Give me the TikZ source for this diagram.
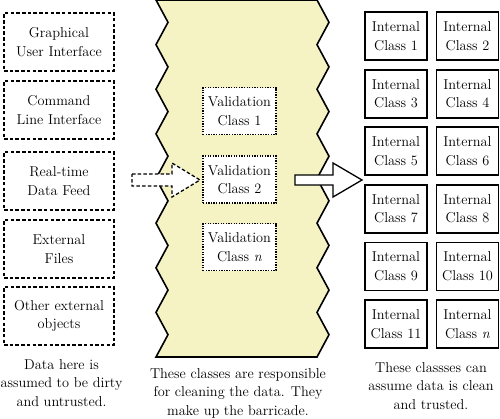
\documentclass[tikz,border=0pt]{standalone}
\usepackage{fontspec}
\definecolor{barfill}{RGB}{245,243,196}
\begin{document}
\begin{tikzpicture}[x=1pt,y=-1pt,
  txt/.style={font=\fontsize{14.3}{18.5}\selectfont, align=center, inner sep=0pt},
  extbox/.style={txt, draw, dash pattern=on 3.5pt off 2.2pt, line width=1.4pt, minimum width=110pt, minimum height=58pt},
  valbox/.style={txt, draw, dash pattern=on 1.3pt off 1.3pt, line width=1.3pt, fill=white, minimum width=73pt, minimum height=47pt},
  intbox/.style={txt, draw, line width=1.8pt, fill=white, minimum width=62pt, minimum height=48pt},
  captxt/.style={txt},
  dasharrow/.style={draw, fill=white, line width=1.3pt, dash pattern=on 3.5pt off 2.2pt, line join=miter},
  solidarrow/.style={draw, fill=white, line width=1.3pt, line join=miter}
]
\useasboundingbox (0,0) rectangle (500,418);

% barricade
\filldraw[fill=barfill, draw=black, line width=1.6pt, line join=miter]
  (156,0) \foreach \k in {1,...,16}{ -- ({156+12*mod(\k,2)},{\k*22.3125}) }
  \foreach \k in {16,...,0}{ -- ({317+12*mod(\k,2)},{\k*22.3125}) } -- cycle;

% external sources
\node[extbox] (gui) at (59,42) {Graphical\\User Interface};
\node[extbox] (cli) at (59,110) {Command\\Line Interface};
\node[extbox] (feed) at (59,181) {Real-time\\Data Feed};
\node[extbox] (files) at (59,249) {External\\Files};
\node[extbox] (other) at (59,316) {Other external\\objects};

% validation classes
\node[valbox] (v1) at (239.5,111) {Validation\\Class 1};
\node[valbox] (v2) at (239.5,179.5) {Validation\\Class 2};
\node[valbox] (vn) at (239.5,247) {Validation\\Class \textit{n}};

% internal classes
\node[intbox] (i1) at (396,36) {Internal\\Class 1};
\node[intbox] (i2) at (467.5,36) {Internal\\Class 2};
\node[intbox] (i3) at (396,93.6) {Internal\\Class 3};
\node[intbox] (i4) at (467.5,93.6) {Internal\\Class 4};
\node[intbox] (i5) at (396,151.2) {Internal\\Class 5};
\node[intbox] (i6) at (467.5,151.2) {Internal\\Class 6};
\node[intbox] (i7) at (396,208.8) {Internal\\Class 7};
\node[intbox] (i8) at (467.5,208.8) {Internal\\Class 8};
\node[intbox] (i9) at (396,266.4) {Internal\\Class 9};
\node[intbox] (i10) at (467.5,266.4) {Internal\\Class 10};
\node[intbox] (i11) at (396,324) {Internal\\Class 11};
\node[intbox] (in) at (467.5,324) {Internal\\Class \textit{n}};

% block arrows
\draw[dasharrow] (132,174) -- (172,174) -- (172,163) -- (200,180) -- (172,197) -- (172,186) -- (132,186) -- cycle;
\draw[solidarrow] (295,175) -- (333,175) -- (333,163) -- (362,180) -- (333,197) -- (333,185) -- (295,185) -- cycle;

% captions
\node[captxt] (c1) at (61.5,383) {Data here is\\assumed to be dirty\\and untrusted.};
\node[captxt] (c2) at (238,393) {These classes are responsible\\for cleaning the data. They\\make up the barricade.};
\node[captxt] (c3) at (431,386) {These classses can\\assume data is clean\\and trusted.};
\end{tikzpicture}
\end{document}
